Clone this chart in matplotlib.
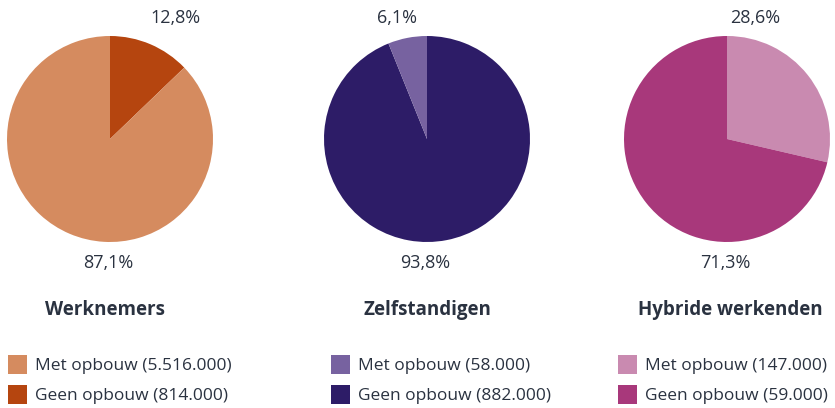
import matplotlib.pyplot as plt
from matplotlib.patches import Rectangle

plt.rcParams['font.family'] = ['Open Sans', 'DejaVu Sans']

groups = ["Werknemers", "Zelfstandigen", "Hybride werkenden"]
series = ["Met opbouw", "Geen opbouw"]

# shares in percent, order: Met, Geen
werknemers_pct = [87.1, 12.8]
zelfstandigen_pct = [6.1, 93.8]
hybride_pct = [28.6, 71.3]

# counts shown in the legend
werknemers_n = ["5.516.000", "814.000"]
zelfstandigen_n = ["58.000", "882.000"]
hybride_n = ["147.000", "59.000"]

pct_labels = [["87,1%", "12,8%"], ["6,1%", "93,8%"], ["28,6%", "71,3%"]]

colors = [["#D58B5F", "#B5450F"],
          ["#7762A0", "#2D1C67"],
          ["#C98AB0", "#A8387B"]]

TEXT = "#2A3240"
W, H = 835, 408

fig = plt.figure(figsize=(W / 100, H / 100), dpi=100)

# pie layout in pixels
centers_x = [110, 427, 727]
center_y = 139
radius = 103
# which slice goes first (clockwise from 12 o'clock), and where the small label sits
first_slice = [1, 1, 0]
top_label_dx = [0.64, -0.29, 0.27]

all_pct = [werknemers_pct, zelfstandigen_pct, hybride_pct]
all_n = [werknemers_n, zelfstandigen_n, hybride_n]

for i in range(3):
    cx = centers_x[i]
    ax = fig.add_axes([(cx - radius) / W, 1 - (center_y + radius) / H,
                       2 * radius / W, 2 * radius / H])
    order = [first_slice[i], 1 - first_slice[i]]
    vals = [all_pct[i][k] for k in order]
    cols = [colors[i][k] for k in order]
    ax.pie(vals, colors=cols, startangle=90, counterclock=False, radius=1,
           wedgeprops=dict(linewidth=0))
    ax.set_xlim(-1, 1)
    ax.set_ylim(-1, 1)
    ax.set_aspect("equal")
    ax.axis("off")

    # small share on top, large share below
    small = 0 if all_pct[i][0] < all_pct[i][1] else 1
    ax.text(top_label_dx[i], 1.175, pct_labels[i][small], ha="center", va="center",
            fontsize=13, color=TEXT, clip_on=False)
    ax.text(-0.02, -1.205, pct_labels[i][1 - small], ha="center", va="center",
            fontsize=13, color=TEXT, clip_on=False)

# overlay for titles and legends, pixel coordinates
ov = fig.add_axes([0, 0, 1, 1])
ov.set_xlim(0, W)
ov.set_ylim(H, 0)
ov.axis("off")

title_x = [105, 427, 730]
for i, g in enumerate(groups):
    ov.text(title_x[i], 310, g, ha="center", va="center", fontsize=13.5,
            fontweight="bold", color=TEXT)

patch_x = [8, 331, 618]
row_y = [364, 394]
for i in range(3):
    for j, s in enumerate(series):
        ov.add_patch(Rectangle((patch_x[i], row_y[j] - 9.5), 19, 19,
                               facecolor=colors[i][j], linewidth=0))
        ov.text(patch_x[i] + 27, row_y[j] + 1.5, f"{s} ({all_n[i][j]})",
                ha="left", va="center", fontsize=12.5, color=TEXT)

fig.savefig("out.png", dpi=100)
